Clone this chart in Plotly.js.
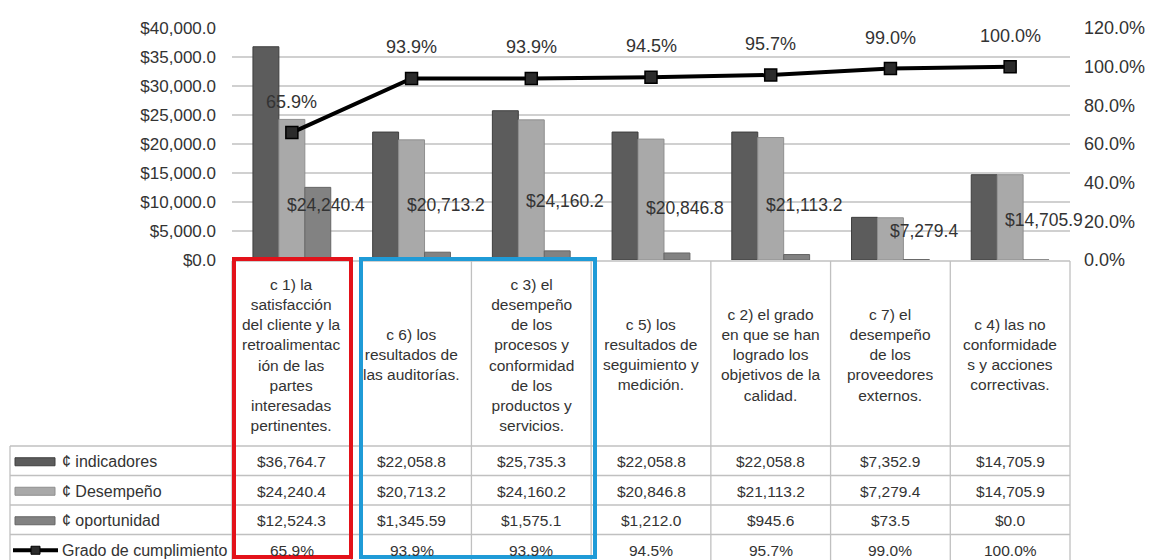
<!DOCTYPE html>
<html>
<head>
<meta charset="utf-8">
<script src="https://cdn.plot.ly/plotly-3.0.1.min.js"></script>
<style>
  html, body { margin: 0; padding: 0; background: #ffffff; }
  #chart { width: 1152px; height: 560px; }
</style>
</head>
<body>
<div id="chart"></div>
<script>
// ---------------- DATA ----------------
const categories = [
  "c 1) la<br>satisfacción<br>del cliente y la<br>retroalimentac<br>ión de las<br>partes<br>interesadas<br>pertinentes.",
  "c 6) los<br>resultados de<br>las auditorías.",
  "c 3) el<br>desempeño<br>de los<br>procesos y<br>conformidad<br>de los<br>productos y<br>servicios.",
  "c 5) los<br>resultados de<br>seguimiento y<br>medición.",
  "c 2) el grado<br>en que se han<br>logrado los<br>objetivos de la<br>calidad.",
  "c 7) el<br>desempeño<br>de los<br>proveedores<br>externos.",
  "c 4) las no<br>conformidade<br>s y acciones<br>correctivas."
];
const seriesNames = ["¢ indicadores", "¢ Desempeño", "¢ oportunidad", "Grado de cumplimiento"];
const indicadores = [36764.7, 22058.8, 25735.3, 22058.8, 22058.8, 7352.9, 14705.9];
const desempeno   = [24240.4, 20713.2, 24160.2, 20846.8, 21113.2, 7279.4, 14705.9];
const oportunidad = [12524.3, 1345.59, 1575.1, 1212.0, 945.6, 73.5, 0.0];
const cumplimiento = [0.659, 0.939, 0.939, 0.945, 0.957, 0.990, 1.000];

// ---------------- STYLE / GEOMETRY ----------------
const W = 1152, H = 560;
const L = 232, R = 1070, T = 28, B = 260;       // plot area in pixels
const colors = ["#5c5c5c", "#a9a9a9", "#828282"];
const outlines = ["#3f3f3f", "#8f8f8f", "#666666"];
const fontFam = "Liberation Sans, Arial, sans-serif";
const textCol = "#333333";
const gridCol = "#d0d0d0";
const tblCol = "#c0c0c0";

function px(x) { return (x - L) / (R - L); }
function py(y) { return (B - y) / (B - T); }

function money(v) {
  const d = (Math.round(v * 10) / 10 === v) ? 1 : 2;
  return "$" + v.toLocaleString("en-US", {minimumFractionDigits: d, maximumFractionDigits: d});
}
function pct(v) { return (v * 100).toFixed(1) + "%"; }

// ---------------- TRACES ----------------
const barSeries = [indicadores, desempeno, oportunidad];
const traces = barSeries.map((vals, i) => ({
  type: "bar",
  x: categories,
  y: vals,
  name: seriesNames[i],
  marker: {color: colors[i], line: {color: outlines[i], width: 1}},
  showlegend: false,
  hoverinfo: "y"
}));
traces.push({
  type: "scatter",
  mode: "lines+markers",
  x: categories,
  y: cumplimiento,
  yaxis: "y2",
  name: seriesNames[3],
  line: {color: "#000000", width: 4},
  marker: {symbol: "square", size: 12, color: "#2b2b2b", line: {color: "#000000", width: 1.5}},
  showlegend: false,
  cliponaxis: false
});

// ---------------- ANNOTATIONS ----------------
const annotations = [];
// percentage labels above the line
cumplimiento.forEach((v, i) => {
  annotations.push({
    x: categories[i], y: v, xref: "x", yref: "y2",
    text: pct(v), showarrow: false, yshift: 31,
    font: {family: fontFam, size: 18, color: textCol}
  });
});
// Desempeño value labels (placement as in the original picture)
const descLabelPx = [217, 217, 213, 220, 217, 243, 232];
desempeno.forEach((v, i) => {
  annotations.push({
    x: categories[i], xref: "x", xshift: 34,
    y: py(descLabelPx[i]), yref: "paper",
    text: money(v), showarrow: false,
    font: {family: fontFam, size: 17.5, color: textCol}
  });
});

// ---------------- TABLE ----------------
const colW = (R - L) / categories.length;
const headTop = 261, headBot = 446, rowH = 29.5;
const tblLeft = 10;
const shapes = [];
function hline(y, x0, x1) {
  shapes.push({type: "line", xref: "paper", yref: "paper",
    x0: px(x0), x1: px(x1), y0: py(y), y1: py(y), line: {color: tblCol, width: 1.3}});
}
function vline(x, y0, y1) {
  shapes.push({type: "line", xref: "paper", yref: "paper",
    x0: px(x), x1: px(x), y0: py(y0), y1: py(y1), line: {color: tblCol, width: 1.3}});
}
hline(headTop, L, R);
for (let r = 0; r <= 4; r++) hline(headBot + r * rowH, tblLeft, R);
for (let c = 0; c <= categories.length; c++) vline(L + c * colW, headTop, H + 10);
vline(tblLeft, headBot, H + 10);

// header labels
categories.forEach((c, i) => {
  annotations.push({
    x: c, xref: "x", y: py((headTop + headBot) / 2 + 1), yref: "paper",
    yanchor: "middle", xanchor: "center",
    text: c, showarrow: false, align: "center",
    font: {family: fontFam, size: 15.5, color: textCol}
  });
});

// row values
const rows = [indicadores.map(money), desempeno.map(money), oportunidad.map(money), cumplimiento.map(pct)];
rows.forEach((vals, r) => {
  const yc = headBot + r * rowH + rowH / 2 + 1;
  vals.forEach((t, i) => {
    annotations.push({
      x: categories[i], xref: "x", y: py(yc), yref: "paper",
      yanchor: "middle", text: t, showarrow: false,
      font: {family: fontFam, size: 15.5, color: textCol}
    });
  });
  // row legend label
  annotations.push({
    x: px(60), xref: "paper", xanchor: "left", y: py(yc), yref: "paper",
    yanchor: "middle", text: seriesNames[r], showarrow: false,
    font: {family: fontFam, size: 16, color: textCol}
  });
  // legend symbol
  if (r < 3) {
    shapes.push({type: "rect", xref: "paper", yref: "paper",
      x0: px(15), x1: px(55), y0: py(yc - 4), y1: py(yc + 4),
      fillcolor: colors[r], line: {color: outlines[r], width: 1}});
  } else {
    shapes.push({type: "line", xref: "paper", yref: "paper",
      x0: px(13), x1: px(58), y0: py(yc), y1: py(yc),
      line: {color: "#000000", width: 4}});
    shapes.push({type: "rect", xref: "paper", yref: "paper",
      x0: px(31), x1: px(40), y0: py(yc - 4), y1: py(yc + 4),
      fillcolor: "#2b2b2b", line: {color: "#000000", width: 1}});
  }
});

// highlight boxes
shapes.push({type: "rect", xref: "paper", yref: "paper",
  x0: px(234), x1: px(351), y0: py(259), y1: py(557),
  line: {color: "#e3121a", width: 4}, fillcolor: "rgba(0,0,0,0)"});
shapes.push({type: "rect", xref: "paper", yref: "paper",
  x0: px(361), x1: px(595), y0: py(259), y1: py(557),
  line: {color: "#1f9bd7", width: 4}, fillcolor: "rgba(0,0,0,0)"});

// ---------------- LAYOUT ----------------
const layout = {
  width: W, height: H,
  margin: {l: L, r: W - R, t: T, b: H - B, pad: 0},
  paper_bgcolor: "#ffffff", plot_bgcolor: "#ffffff",
  barmode: "group", bargap: 0.35, bargroupgap: 0,
  showlegend: false,
  font: {family: fontFam, color: textCol},
  xaxis: {type: "category", showticklabels: false, showgrid: false, zeroline: false,
          showline: false, ticks: "", range: [-0.5, categories.length - 0.5]},
  yaxis: {range: [0, 40000], dtick: 5000, tickformat: "$,.1f", showgrid: true,
          gridcolor: gridCol, gridwidth: 1.5, zeroline: false, showline: false,
          ticks: "", ticklabelstandoff: 15,
          tickfont: {family: fontFam, size: 17, color: textCol}},
  yaxis2: {range: [0, 1.2], dtick: 0.2, tickformat: ".1%", overlaying: "y", side: "right",
           showgrid: false, zeroline: false, showline: false, ticks: "", ticklabelstandoff: 13,
           tickfont: {family: fontFam, size: 18, color: textCol}},
  annotations: annotations,
  shapes: shapes
};

Plotly.newPlot("chart", traces, layout, {displayModeBar: false, staticPlot: true});
</script>
</body>
</html>
